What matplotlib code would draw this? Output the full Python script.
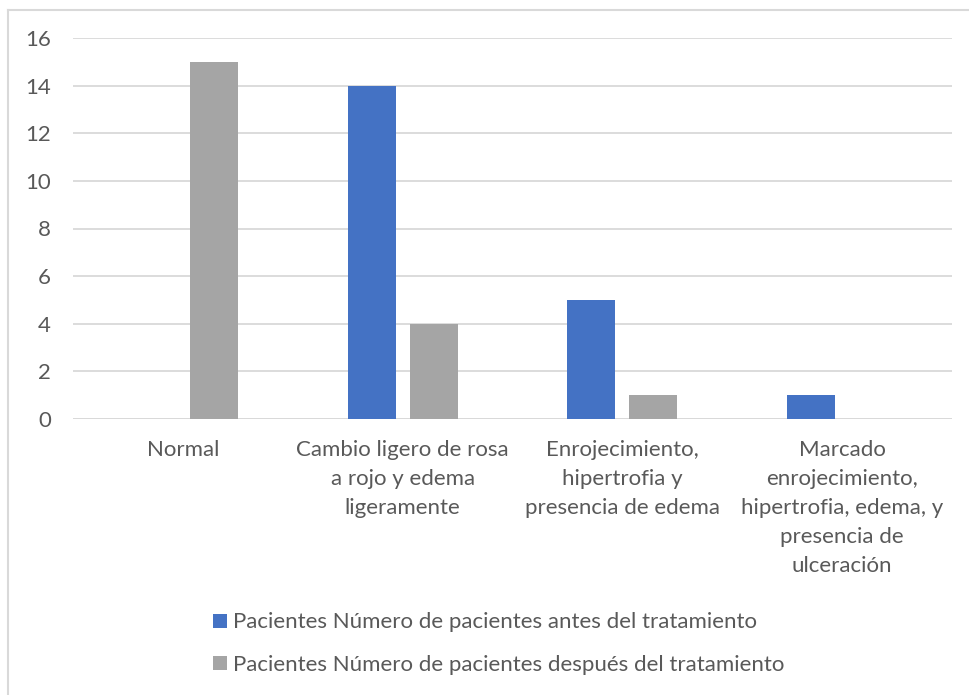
import matplotlib
matplotlib.use("Agg")
import matplotlib.pyplot as plt
import numpy as np
from matplotlib.lines import Line2D
from matplotlib.patches import Patch

categories = ["Normal",
              "Cambio ligero de rosa\na rojo y edema\nligeramente",
              "Enrojecimiento,\nhipertrofia y\npresencia de edema",
              "Marcado\nenrojecimiento,\nhipertrofia, edema, y\npresencia de\nulceración"]
antes = [0, 14, 5, 1]
despues = [15, 4, 1, 0]
series_names = ["Pacientes Número de pacientes antes del tratamiento",
                "Pacientes Número de pacientes después del tratamiento"]
yticks = [0, 2, 4, 6, 8, 10, 12, 14, 16]

blue = "#4472C4"
gray = "#A5A5A5"
txt = "#595959"
grid = "#D9D9D9"

plt.rcParams['font.family'] = ['Lato', 'DejaVu Sans']

W, H = 969, 695
fig = plt.figure(figsize=(W/100, H/100), dpi=100)
ax = fig.add_axes([73/W, 1-419/H, (952-73)/W, (419-38)/H])

x = np.arange(len(categories))
bw = 0.218
off = 0.141
ax.bar(x - off, antes, bw, color=blue, zorder=3)
ax.bar(x + off, despues, bw, color=gray, zorder=3)

ax.set_xlim(-0.5, len(categories) - 0.5)
ax.set_ylim(0, 16)
ax.set_yticks(yticks)
ax.set_yticklabels([str(t) for t in yticks], fontsize=16, color=txt)
ax.set_xticks(x)
ax.set_xticklabels(categories, fontsize=16, color=txt, linespacing=1.57)
ax.tick_params(axis='both', length=0)
ax.tick_params(axis='y', pad=16)
ax.tick_params(axis='x', pad=15)
ax.grid(axis='y', color=grid, linewidth=1.3, zorder=0)
for s in ax.spines.values():
    s.set_visible(False)
ax.axhline(0, color=grid, linewidth=1.3, zorder=2)

# figure border
fig.add_artist(Line2D([8/W, 1], [1-10/H, 1-10/H], color=grid, linewidth=1.5, transform=fig.transFigure))
fig.add_artist(Line2D([8/W, 8/W], [0, 1-10/H], color=grid, linewidth=1.5, transform=fig.transFigure))

handles = [Patch(facecolor=blue), Patch(facecolor=gray)]
leg = fig.legend(handles, series_names, loc='center', bbox_to_anchor=(499/W, 1-643.5/H),
                 ncol=1, frameon=False, fontsize=16, labelcolor=txt,
                 handlelength=0.6, handleheight=0.6, handletextpad=0.3,
                 labelspacing=1.0)

fig.savefig("out.png", dpi=100)
